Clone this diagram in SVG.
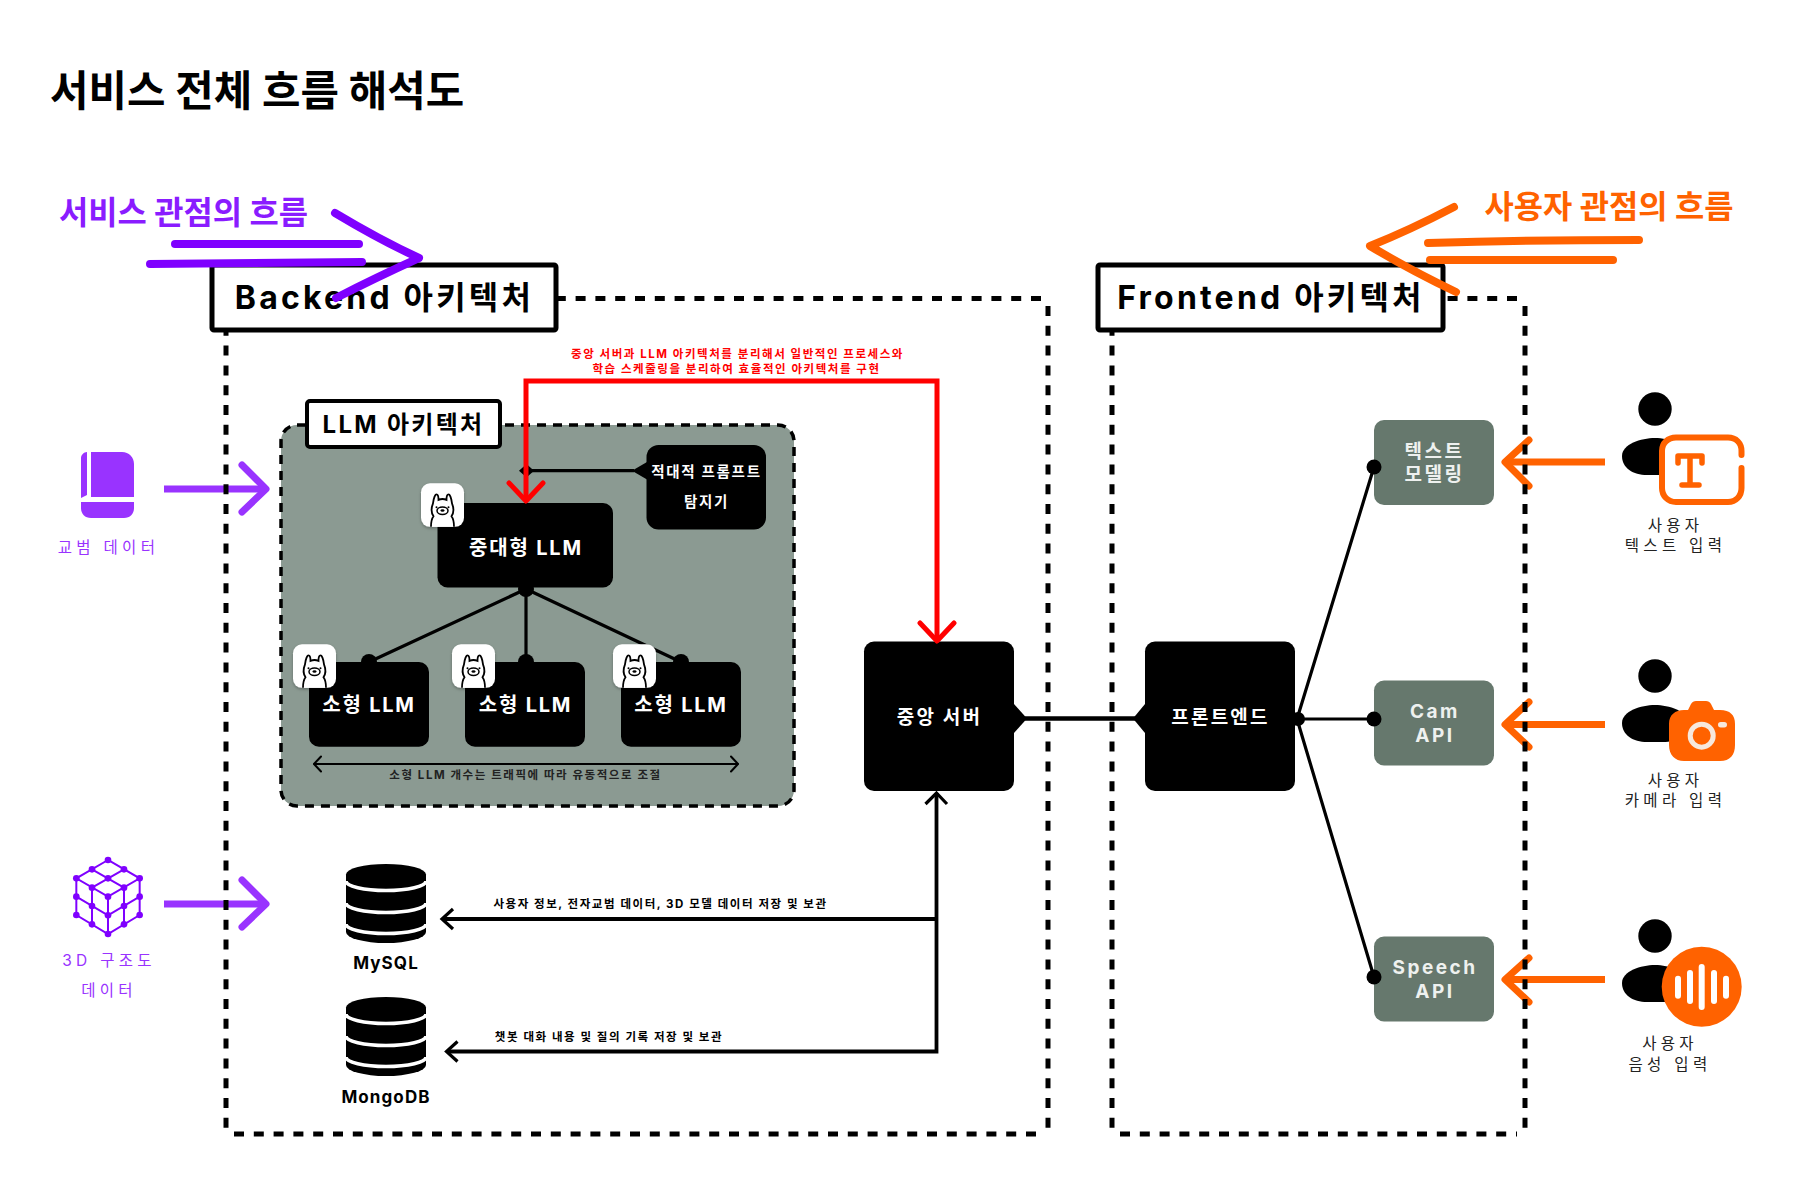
<svg xmlns="http://www.w3.org/2000/svg" xmlns:xlink="http://www.w3.org/1999/xlink" width="1800" height="1200" viewBox="0 0 1800 1200">
<style>
text{font-family:Inter,"Noto Sans CJK KR",sans-serif;text-anchor:middle}
.b{font-weight:700}
.hd{font-size:32px;font-weight:700;letter-spacing:3.2px}
.wh{fill:#fff;font-weight:700}
.llm{font-size:20px;letter-spacing:1.8px}
.svc{font-size:19px;letter-spacing:2.2px}
.api{font-size:19px;fill:#eef1ef;font-weight:700;letter-spacing:2.5px}
.tiny{font-size:11.5px;font-weight:700;letter-spacing:1.55px}
.cap{font-size:15.5px;letter-spacing:4.3px;fill:#222}
.pcap{font-size:15.5px;letter-spacing:4.3px;fill:#9933ff}
.db{font-size:17px;font-weight:700;letter-spacing:1.100px}
.dash{fill:none;stroke:#000;stroke-width:5;stroke-dasharray:10 9.800}
.ln{fill:none;stroke:#000;stroke-width:3.2}
.red{fill:none;stroke:#f00;stroke-width:5}
.pa{fill:none;stroke:#9933ff;stroke-width:7}
.oa{fill:none;stroke:#ff6200;stroke-width:7}
.cap-r{stroke-linecap:round;stroke-linejoin:round}
.sp{fill:none;stroke:#7f00ff;stroke-width:8;stroke-linecap:round;stroke-linejoin:round}
.so{fill:none;stroke:#ff6200;stroke-width:8;stroke-linecap:round;stroke-linejoin:round}
.cube{fill:none;stroke:#7f00ff;stroke-width:6}
</style>
<defs>
<filter id="sh" x="-20%" y="-20%" width="140%" height="140%"><feDropShadow dx="0" dy="1.5" stdDeviation="1.5" flood-color="#000" flood-opacity=".3"/></filter>
<g id="alpaca">
<rect width="43" height="43.500" rx="9" fill="#fff" filter="url(#sh)"/>
<path d="M10 43.500C10 38 11 35 12.500 33C10.500 30 10 25 12 20C12.500 16 14 11 15.500 11C17 11 17.500 14 17.500 16.500C20 15.500 23 15.500 25.500 16.500C25.500 14 26 11 27.500 11C29 11 30.500 16 31 20C33 25 32.500 30 30.500 33C32 35 33 38 33 43.500" fill="#fff" stroke="#000" stroke-width="1.800"/>
<ellipse cx="21.500" cy="27.500" rx="5.500" ry="3.800" fill="none" stroke="#000" stroke-width="1.500"/>
<ellipse cx="21.500" cy="27.200" rx="2" ry="1.300"/>
<circle cx="15.500" cy="24" r="1"/><circle cx="27.500" cy="24" r="1"/>
</g>
<g id="cyl">
<path d="M0 10.500A40 10.500 0 0 1 80 10.500V68A40 11 0 0 1 0 68Z"/>
<path d="M0 17A40 9.500 0 0 0 80 17M0 39A40 9.500 0 0 0 80 39M0 60A40 9.500 0 0 0 80 60" fill="none" stroke="#fff" stroke-width="3.600"/>
</g>
<g id="person">
<circle cx="0" cy="0" r="16.700"/>
<path d="M-33 47C-33 35 -14 29 0 29C14 29 33 35 33 47C33 59 22 66 8 66L-8 66C-22 66 -33 59 -33 47Z"/>
</g>
</defs>
<rect width="1800" height="1200" fill="#fff"/>

<g id="input-arrows">
<path class="pa" d="M164 489H263"/><path class="pa cap-r" d="M242 465L266 489L242 512"/>
<path class="pa" d="M164 904H263"/><path class="pa cap-r" d="M242 880L266 904L242 927"/>
<path class="oa" d="M1605 462H1507"/><path class="oa cap-r" d="M1529 440L1505 462L1529 486"/>
<path class="oa" d="M1605 724.500H1507"/><path class="oa cap-r" d="M1529 702L1505 724.500L1529 747"/>
<path class="oa" d="M1605 979.500H1507"/><path class="oa cap-r" d="M1529 958L1505 979.500L1529 1002"/>
</g>

<g id="backend-frame">
<path class="dash" d="M1041 298.500H234M1048 306V1128M226 306V1128M234 1134H1041"/>
</g>
<g id="frontend-frame">
<path class="dash" d="M1517 298.500H1120M1525 306V1128M1112 306V1128M1120 1134H1517"/>
</g>
<g id="backend-label">
<rect x="212" y="265" width="344" height="65" rx="2" fill="#fff" stroke="#000" stroke-width="5"/>
<text class="hd" x="384.500" y="309">Backend 아키텍처</text>
</g>
<g id="frontend-label">
<rect x="1098" y="265" width="345" height="65" rx="2" fill="#fff" stroke="#000" stroke-width="5"/>
<text class="hd" x="1271" y="309">Frontend 아키텍처</text>
</g>

<g id="title"><text class="b" x="50" y="106" font-size="41.800" style="text-anchor:start">서비스 전체 흐름 해석도</text></g>
<g id="service-flow">
<text class="b" x="183.500" y="224" font-size="31.800" fill="#8a1cff">서비스 관점의 흐름</text>
</g>
<g id="user-flow">
<text class="b" x="1609" y="218" font-size="31.800" fill="#ff6200">사용자 관점의 흐름</text>
</g>

<g id="llm-architecture">
<rect x="281" y="425" width="513" height="381" rx="16" fill="#8b9a92" stroke="#000" stroke-width="3.500" stroke-dasharray="9 7"/>
</g>
<g id="llm-label">
<rect x="307" y="401" width="193" height="46" rx="3" fill="#fff" stroke="#000" stroke-width="4"/>
<text class="b" x="403.500" y="433" font-size="24" letter-spacing="2.300">LLM 아키텍처</text>
</g>

<g id="connectors">
<path class="ln" d="M526 589L369 662M526 589V662M526 589L681 662"/>
<path class="ln" d="M530 470.700H634"/>
<path d="M519 470.700L526.500 464L534 470.700L526.500 477.400Z"/>
<path d="M632 470.700L647 462V479.500Z"/>
<circle cx="526" cy="589" r="8"/>
<circle cx="369" cy="662" r="8"/><circle cx="526" cy="662" r="8"/><circle cx="681" cy="662" r="8"/>
<path d="M313.500 764H738.500" fill="none" stroke="#000" stroke-width="2"/>
<path d="M321 756.500L314 764L321 771.500M731 756.500L738 764L731 771.500" fill="none" stroke="#000" stroke-width="2" stroke-linecap="round" stroke-linejoin="round"/>
<path d="M1014 704L1027 718.500L1014 733Z"/>
<path class="ln" style="stroke-width:4.500" d="M1025 718.500H1136"/>
<path d="M1145 704L1133 718.500L1145 733Z"/>
<path class="ln" d="M1297 719L1374 467M1297 719H1374M1297 719L1374 977"/>
<circle cx="1298" cy="719" r="7"/>
<path class="ln" style="stroke-width:3.800" d="M936.500 793V1051.500H447M936.500 919H442"/>
<path class="ln" style="stroke-width:3.200" d="M925.500 804L936.500 793L947 804M453 909L442 919L453 929M457.500 1041.500L446.500 1051.500L457.500 1061.500"/>
</g>

<g id="node-detector">
<rect x="646.500" y="445" width="119.500" height="84.500" rx="12"/>
<text class="wh" x="706.500" y="477" font-size="14.500" letter-spacing="1.700">적대적 프롬프트</text>
<text class="wh" x="706.500" y="507" font-size="14.500" letter-spacing="1.700">탐지기</text>
</g>
<g id="node-large-llm">
<rect x="437.500" y="503" width="175.500" height="84.500" rx="10"/>
<text class="wh llm" x="526" y="555">중대형 LLM</text>
<use xlink:href="#alpaca" href="#alpaca" x="421" y="483.300"/>
</g>
<g id="node-small-llm-1">
<rect x="309" y="662" width="120" height="84.700" rx="10"/>
<text class="wh llm" x="369" y="712">소형 LLM</text>
<use xlink:href="#alpaca" href="#alpaca" x="293" y="644.300"/>
</g>
<g id="node-small-llm-2">
<rect x="465" y="662" width="120" height="84.700" rx="10"/>
<text class="wh llm" x="525.500" y="712">소형 LLM</text>
<use xlink:href="#alpaca" href="#alpaca" x="452" y="644.300"/>
</g>
<g id="node-small-llm-3">
<rect x="621" y="662" width="120" height="84.700" rx="10"/>
<text class="wh llm" x="681" y="712">소형 LLM</text>
<use xlink:href="#alpaca" href="#alpaca" x="613" y="644.300"/>
</g>
<text class="tiny" x="525.500" y="779" fill="#222">소형 LLM 개수는 트래픽에 따라 유동적으로 조절</text>

<g id="node-central-server">
<rect x="864" y="641.500" width="150" height="149.500" rx="10"/>
<text class="wh svc" x="939.500" y="723.500">중앙 서버</text>
</g>
<g id="node-frontend">
<rect x="1145" y="641.500" width="150" height="149.500" rx="10"/>
<text class="wh svc" x="1220.500" y="723.500">프론트엔드</text>
</g>
<g id="node-text-model">
<rect x="1374" y="420" width="120" height="85" rx="10" fill="#66786d"/>
<text class="api" x="1434.500" y="458">텍스트</text><text class="api" x="1434.500" y="481">모델링</text>
</g>
<g id="node-cam-api">
<rect x="1374" y="680.500" width="120" height="85" rx="10" fill="#66786d"/>
<text class="api" x="1435" y="718">Cam</text><text class="api" x="1435" y="742">API</text>
</g>
<g id="node-speech-api">
<rect x="1374" y="936.500" width="120" height="85" rx="10" fill="#66786d"/>
<text class="api" x="1435" y="974">Speech</text><text class="api" x="1435" y="998">API</text>
</g>
<g id="connector-dots">
<circle cx="1374" cy="467" r="7.500"/><circle cx="1374" cy="719" r="7.500"/><circle cx="1374" cy="977" r="7.500"/>
</g>

<g id="node-mysql">
<use xlink:href="#cyl" href="#cyl" x="346" y="864"/>
<text class="db" x="386" y="969">MySQL</text>
</g>
<g id="node-mongodb">
<use xlink:href="#cyl" href="#cyl" x="346" y="997"/>
<text class="db" x="386" y="1103">MongoDB</text>
</g>
<text class="tiny" x="660.500" y="908">사용자 정보, 전자교범 데이터, 3D 모델 데이터 저장 및 보관</text>
<text class="tiny" x="609" y="1041">챗봇 대화 내용 및 질의 기록 저장 및 보관</text>

<g id="red-connector">
<path class="red" d="M526 499V381H937V640"/>
<path class="red cap-r" d="M509 483L526 501L543 483M920 623L937 641L954 623"/>
</g>
<g id="red-note">
<text class="tiny" x="737.500" y="358" fill="#f00">중앙 서버과 LLM 아키텍처를 분리해서 일반적인 프로세스와</text>
<text class="tiny" x="736.500" y="373" fill="#f00">학습 스케줄링을 분리하여 효율적인 아키텍처를 구현</text>
</g>

<g id="sketch-arrows">
<path class="sp" d="M175 244H359"/>
<path class="sp" d="M150 264Q250 263 362 262"/>
<path class="sp" d="M335 213Q380 240 419 258Q375 278 336 298"/>
<path class="so" d="M1428 243Q1530 240 1639 240"/>
<path class="so" d="M1430 260H1613"/>
<path class="so" d="M1454 207Q1410 230 1370 246Q1410 270 1456 292"/>
</g>

<g id="source-manual">
<path d="M91 452H122C129 452 134 457 134 464V497H91Z M87 452V495L81 498V458C81 455 84 452 87 452Z M81 502H134V508C134 514 130 518 124 518H91C85 518 81 514 81 508Z" fill="#9933ff"/>
<text class="pcap" x="108.500" y="553">교범 데이터</text>
</g>
<g id="source-3d">
<g transform="translate(40 840) scale(.3333)">
<path class="cube" d="M204 60L109 115L204 170L299 115ZM156 88L252 143M252 88L156 143M109 115V225L204 282L299 225V115M204 170V282M156 143V253M252 143V253M109 170L204 226L299 170"/>
<g fill="#7f00ff"><circle cx="204" cy="60" r="10"/><circle cx="156" cy="88" r="10"/><circle cx="252" cy="88" r="10"/><circle cx="109" cy="115" r="10"/><circle cx="204" cy="115" r="10"/><circle cx="299" cy="115" r="10"/><circle cx="156" cy="143" r="10"/><circle cx="252" cy="143" r="10"/><circle cx="204" cy="170" r="10"/><circle cx="109" cy="170" r="10"/><circle cx="109" cy="225" r="10"/><circle cx="156" cy="198" r="10"/><circle cx="156" cy="253" r="10"/><circle cx="204" cy="226" r="10"/><circle cx="204" cy="282" r="10"/><circle cx="252" cy="198" r="10"/><circle cx="252" cy="253" r="10"/><circle cx="299" cy="170" r="10"/><circle cx="299" cy="225" r="10"/></g>
</g>
<text class="pcap" x="109" y="966">3D 구조도</text>
<text class="pcap" x="109" y="995.500">데이터</text>
</g>

<g id="user-text">
<use xlink:href="#person" href="#person" x="1655" y="409"/>
<path d="M1741.500 455V451C1741.500 443 1736 437.500 1728 437.500H1676C1668 437.500 1662 443 1662 451V488C1662 496 1668 502 1676 502H1728C1736 502 1741.500 496 1741.500 488V468" fill="#fff" stroke="#ff6200" stroke-width="6" stroke-linecap="round"/>
<path d="M1678 463V456H1702V463M1690 456V485M1682 485H1699" fill="none" stroke="#ff6200" stroke-width="5.500" stroke-linecap="round" stroke-linejoin="round"/>
<text class="cap" x="1675.500" y="531">사용자</text>
<text class="cap" x="1675.500" y="551">텍스트 입력</text>
</g>
<g id="user-camera">
<use xlink:href="#person" href="#person" x="1655" y="676"/>
<path d="M1669 724C1669 715 1675 710 1684 710H1688L1691 704C1692 702 1694 701 1696 701H1706C1708 701 1710 702 1711 704L1714 710H1720C1730 710 1735 715 1735 724V745C1735 755 1730 761 1720 761H1684C1675 761 1669 755 1669 745Z" fill="#ff6200"/>
<circle cx="1701.700" cy="735.700" r="11.500" fill="none" stroke="#f7e8dd" stroke-width="5"/>
<rect x="1718" y="722" width="9" height="5.500" rx="2.750" fill="#f7e8dd"/>
<text class="cap" x="1675.500" y="786">사용자</text>
<text class="cap" x="1675.500" y="806">카메라 입력</text>
</g>
<g id="user-speech">
<use xlink:href="#person" href="#person" x="1655" y="936"/>
<circle cx="1701.700" cy="986.700" r="40" fill="#ff6200"/>
<g fill="#fff"><rect x="1675" y="975.700" width="6" height="23" rx="3"/><rect x="1687" y="970" width="6" height="34" rx="3"/><rect x="1698.700" y="964" width="6" height="46" rx="3"/><rect x="1711" y="970" width="6" height="34" rx="3"/><rect x="1723" y="975.700" width="6" height="23" rx="3"/></g>
<text class="cap" x="1670" y="1049">사용자</text>
<text class="cap" x="1670" y="1070">음성 입력</text>
</g>
</svg>
